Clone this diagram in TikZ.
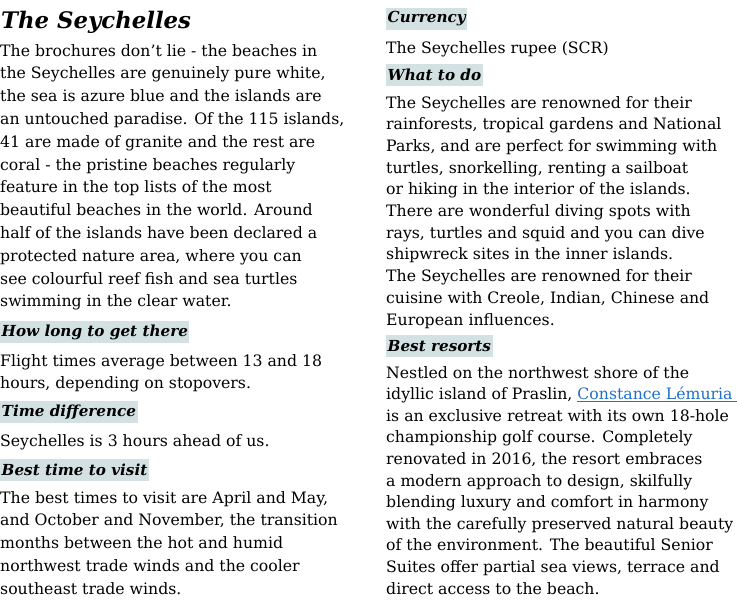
\documentclass[tikz,border=0pt]{standalone}
\usepackage{fontspec}
\setmainfont{DejaVu Serif}
\usetikzlibrary{positioning}
\definecolor{hdr}{HTML}{D3E1E2}
\definecolor{lnk}{HTML}{1F6FC8}
\begin{document}
\begin{tikzpicture}[x=1pt,y=-1pt,
 t/.style={anchor=base west,inner sep=0pt,font=\fontsize{15.7}{18}\selectfont},
 h/.style={anchor=west,inner xsep=1.5pt,inner ysep=0pt,minimum height=22pt,fill=hdr,font=\fontsize{15.2}{18}\selectfont\bfseries\itshape}]
\useasboundingbox (0,0) rectangle (737,603);
\node[anchor=base west,inner sep=0pt,font=\fontsize{22.8}{26}\selectfont\bfseries\itshape] (title) at (1,28) {The Seychelles};
\foreach \s [count=\i] in {{The brochures don’t lie - the beaches in},{the Seychelles are genuinely pure white,},{the sea is azure blue and the islands are},{an untouched paradise. Of the 115 islands,},{41 are made of granite and the rest are},{coral - the pristine beaches regularly},{feature in the top lists of the most},{beautiful beaches in the world. Around},{half of the islands have been declared a},{protected nature area, where you can},{see colourful reef fish and sea turtles},{swimming in the clear water.}}
 \node[t] (a\i) at (0,{51+5+(\i-1)*22.8}) {\s};
\node[h] (h1) at (0,332) {How long to get there};
\node[t] (b1) at (0,366) {Flight times average between 13 and 18};
\node[t] (b2) at (0,388) {hours, depending on stopovers.};
\node[h] (h2) at (0,412) {Time difference};
\node[t] (c1) at (0,446) {Seychelles is 3 hours ahead of us.};
\node[h] (h3) at (0,470) {Best time to visit};
\foreach \s [count=\i] in {{The best times to visit are April and May,},{and October and November, the transition},{months between the hot and humid},{northwest trade winds and the cooler},{southeast trade winds.}}
 \node[t] (d\i) at (0,{503+(\i-1)*22.8}) {\s};
\node[h] (h4) at (386,19) {Currency};
\node[t] (e1) at (386,53) {The Seychelles rupee (SCR)};
\node[h] (h5) at (386,75) {What to do};
\foreach \s [count=\i] in {{The Seychelles are renowned for their},{rainforests, tropical gardens and National},{Parks, and are perfect for swimming with},{turtles, snorkelling, renting a sailboat},{or hiking in the interior of the islands.},{There are wonderful diving spots with},{rays, turtles and squid and you can dive},{shipwreck sites in the inner islands.},{The Seychelles are renowned for their},{cuisine with Creole, Indian, Chinese and},{European influences.}}
 \node[t] (f\i) at (386,{108+(\i-1)*21.7}) {\s};
\node[h] (h6) at (386,346) {Best resorts};
\foreach \s [count=\i] in {{Nestled on the northwest shore of the},{idyllic island of Praslin, {\color{lnk}\underline{Constance Lémuria\ }}},{is an exclusive retreat with its own 18-hole},{championship golf course. Completely},{renovated in 2016, the resort embraces},{a modern approach to design, skilfully},{blending luxury and comfort in harmony},{with the carefully preserved natural beauty},{of the environment. The beautiful Senior},{Suites offer partial sea views, terrace and},{direct access to the beach.}}
 \node[t] (g\i) at (386,{378+(\i-1)*21.6}) {\s};
\end{tikzpicture}
\end{document}
